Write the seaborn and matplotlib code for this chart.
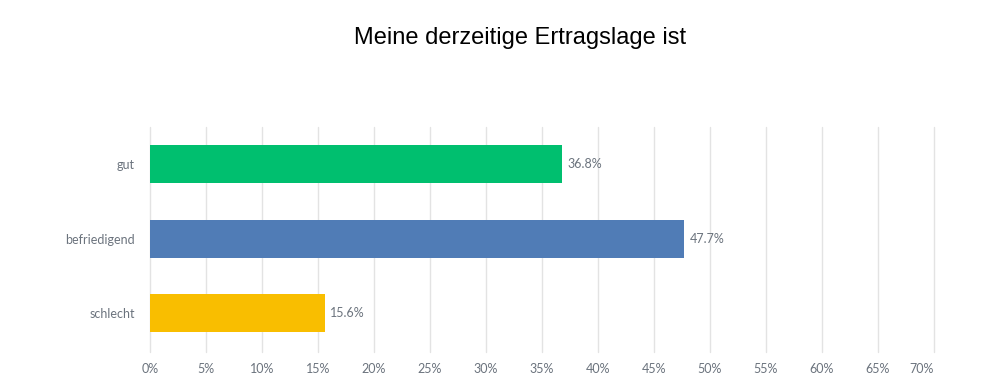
import seaborn as sns
import matplotlib.pyplot as plt
import pandas as pd

answers = ['gut', 'befriedigend', 'schlecht']
shares = [36.8, 47.7, 15.6]
colors = ['#00bf6f', '#507cb6', '#f9be00']
ticks = list(range(0, 75, 5))

df = pd.DataFrame({'answer': answers, 'share': shares})

sns.set_style('white')
plt.rcParams['font.family'] = ['Liberation Sans', 'DejaVu Sans']

fig = plt.figure(figsize=(10, 3.87), dpi=100)
ax = fig.add_axes([0.15, 0.0904, 0.784, 0.5814])

sns.barplot(data=df, x='share', y='answer', hue='answer', palette=colors,
            width=0.51, legend=False, ax=ax, saturation=1, linewidth=0)

for i, v in enumerate(shares):
    ax.text(v + 0.5, i, f'{v}%', va='center', ha='left',
            fontsize=9, color='#6b737d', family='Lato')

ax.set_xlim(0, 70)
ax.set_ylim(2.52, -0.5)
ax.set_xticks(ticks)
ax.set_xticklabels([f'{t}%' for t in ticks])
ax.get_xticklabels()[-1].set_horizontalalignment('right')
ax.xaxis.grid(True, color='#e3e3e3', linewidth=1)
for gl in ax.get_xgridlines():
    gl.set_clip_on(False)
ax.set_axisbelow(True)
ax.tick_params(axis='both', length=0, labelsize=9, labelcolor='#6b737d')
ax.tick_params(axis='x', pad=8)
ax.tick_params(axis='y', pad=11)
for lab in ax.get_xticklabels() + ax.get_yticklabels():
    lab.set_family('Lato')
sns.despine(ax=ax, left=True, bottom=True)
ax.set_xlabel('')
ax.set_ylabel('')

fig.text(0.52, 0.902, 'Meine derzeitige Ertragslage ist', ha='center', va='center',
         fontsize=17, color='black')

fig.savefig('out.png', dpi=100)
